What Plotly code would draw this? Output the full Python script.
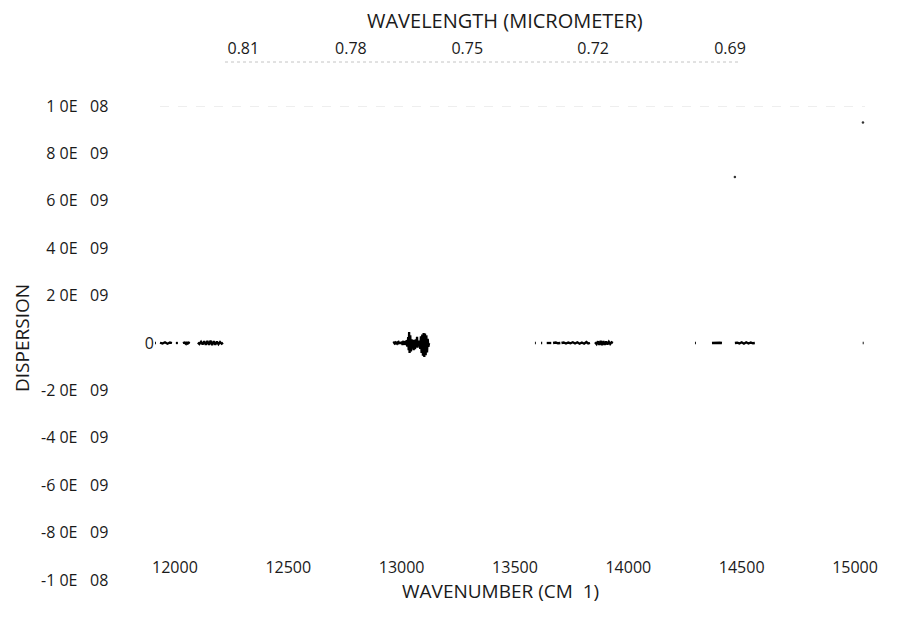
import plotly.graph_objects as go

# ---------------- data ----------------
# wavenumber (cm-1) and dispersion values of the measured trace; None = gap
wn_cluster1 = [11907, 11916, None, 11934, 11945, 11956, 11967, 11978, 11987, None,
               12004, 12013, None, 12035, 12042, 12048, 12051, 12054, 12060, 12066, None,
               12101, 12108, 12115, 12122, 12129, 12136, 12143, 12150, 12157, 12164,
               12171, 12178, 12185, 12192, 12199, 12206, 12212]
disp_cluster1 = [0, 0, None, 0.1e-10, -0.2e-10, 0.3e-10, -0.3e-10, 0.2e-10, 0, None,
                 0, 0, None, 0, 0.2e-10, -0.3e-10, 0.5e-10, -0.5e-10, 0.2e-10, 0, None,
                 0.2e-10, -0.4e-10, 0.5e-10, -0.6e-10, 0.7e-10, -0.8e-10, 0.9e-10, -0.8e-10, 1.0e-10, -0.9e-10,
                 0.8e-10, -0.7e-10, 0.6e-10, -0.5e-10, 0.4e-10, -0.3e-10, 0.1e-10]

wn_burst = [12962, 12966, 12969, 12973, 12976, 12980, 12983, 12987, 12990, 12994,
            12997, 13001, 13004, 13008, 13011, 13015, 13018, 13022, 13025, 13029,
            13031, 13033, 13035, 13038, 13041, 13044, 13047, 13050, 13053, 13056,
            13059, 13062, 13065, 13068, 13070, 13073, 13076, 13079, 13082, 13085,
            13088, 13091, 13094, 13097, 13100, 13103, 13106, 13109, 13112, 13115,
            13118, 13121]
disp_burst = [0, 0.2e-10, -0.2e-10, 0.2e-10, -0.2e-10, 0.2e-10, -0.2e-10, 0.3e-10, -0.3e-10, 0.3e-10,
              -0.3e-10, 0.6e-10, -0.8e-10, 0.9e-10, -0.7e-10, 0.8e-10, -0.9e-10, 1.2e-10, -1.5e-10, 2.5e-10,
              -3.0e-10, 4.6e-10, -4.2e-10, 3.2e-10, -3.6e-10, 1.6e-10, -2.4e-10, 1.3e-10, -3.0e-10, 1.2e-10,
              -2.6e-10, 1.5e-10, -1.8e-10, 2.6e-10, -2.0e-10, 0.9e-10, -0.8e-10, 1.0e-10, -2.5e-10, 2.8e-10,
              -4.2e-10, 3.6e-10, -5.4e-10, 4.2e-10, -5.9e-10, 4.0e-10, -5.2e-10, 3.2e-10, -4.0e-10, 1.8e-10,
              -1.6e-10, 0]

wn_cluster3 = [13588, 13592, None, 13615, 13620, None, 13640, 13650, 13660, None,
               13668, 13680, 13690, 13700, None, 13705, 13715, 13725, 13735, 13745, 13755,
               13765, 13775, 13785, 13795, 13805, 13815, 13823, 13831, None,
               13853, 13860, 13866, 13872, 13878, 13884, 13890, 13896, 13902, 13908,
               13914, 13920, 13926, 13932]
disp_cluster3 = [0, 0, None, 0, 0, None, 0, 0.1e-10, 0, None,
                 0, 0.2e-10, -0.1e-10, 0, None, 0, 0.2e-10, -0.2e-10, 0.2e-10, -0.1e-10, 0.3e-10,
                 -0.2e-10, 0.3e-10, -0.3e-10, 0.2e-10, -0.3e-10, 0.4e-10, -0.2e-10, 0, None,
                 0.3e-10, -0.5e-10, 0.7e-10, -0.8e-10, 0.9e-10, -0.9e-10, 0.8e-10, -0.8e-10, 0.7e-10, -0.6e-10,
                 0.5e-10, -0.4e-10, 0.3e-10, 0]

wn_cluster4 = [14294, 14298, None, 14369, 14380, 14392, 14403, 14413, None,
               14470, 14480, 14490, 14500, 14510, 14520, 14530, 14540, 14550, 14558, None,
               15034, 15038]
disp_cluster4 = [0, 0, None, 0, 0.1e-10, -0.1e-10, 0.1e-10, 0, None,
                 0, 0.1e-10, -0.2e-10, 0.3e-10, -0.3e-10, 0.3e-10, -0.2e-10, 0.2e-10, -0.1e-10, 0, None,
                 0, 0]

# isolated specks above the zero line
wn_specks = [14470, 15035]
disp_specks = [7.0e-9, 9.3e-9]

# axes
x_range = [11912, 15044]
y_range = [-1e-8, 1e-8]
x_ticks = [12000, 12500, 13000, 13500, 14000, 14500, 15000]
y_ticks = [1e-8, 8e-9, 6e-9, 4e-9, 2e-9, 0, -2e-9, -4e-9, -6e-9, -8e-9, -1e-8]
SP3 = "\u00a0\u00a0\u00a0"
y_ticktext = ["1 0E" + SP3 + "08", "8 0E" + SP3 + "09", "6 0E" + SP3 + "09", "4 0E" + SP3 + "09",
              "2 0E" + SP3 + "09", "0",
              "-2 0E" + SP3 + "09", "-4 0E" + SP3 + "09", "-6 0E" + SP3 + "09", "-8 0E" + SP3 + "09",
              "-1 0E" + SP3 + "08"]
wavelength_ticks = [0.81, 0.78, 0.75, 0.72, 0.69]
wavelength_text = ["0.81", "0.78", "0.75", "0.72", "0.69"]

# ---------------- figure ----------------
FONT = "Open Sans, Noto Sans, sans-serif"
INK = "#1a1a1a"
PAD = "\u00a0" * 11

wn_all = wn_cluster1 + [None] + wn_burst + [None] + wn_cluster3 + [None] + wn_cluster4
disp_all = disp_cluster1 + [None] + disp_burst + [None] + disp_cluster3 + [None] + disp_cluster4

fig = go.Figure()
fig.add_trace(go.Scatter(x=wn_all, y=disp_all, mode="lines",
                         line=dict(color="black", width=2.3),
                         connectgaps=False, showlegend=False, hoverinfo="skip"))
fig.add_trace(go.Scatter(x=wn_specks, y=disp_specks, mode="markers",
                         marker=dict(color="#333", size=2.5),
                         showlegend=False, hoverinfo="skip"))
# carrier trace so the top wavelength axis is drawn
top_pos = [1e4 / w for w in wavelength_ticks]
fig.add_trace(go.Scatter(x=top_pos, y=[None] * len(top_pos), xaxis="x2", mode="markers",
                         showlegend=False, hoverinfo="skip"))

xdom = [155 / 905, 865 / 905]
ydom = [58 / 638, 532 / 638]

fig.update_layout(
    width=905, height=638,
    margin=dict(l=0, r=0, t=0, b=0),
    paper_bgcolor="white", plot_bgcolor="white",
    template="none",
    font=dict(family=FONT, color=INK, size=16),
    xaxis=dict(domain=xdom, range=x_range, anchor="free", position=(638 - 556) / 638,
               tickvals=x_ticks, ticktext=[str(v) for v in x_ticks],
               ticks="", showline=False, showgrid=False, zeroline=False,
               tickfont=dict(size=16), automargin=False),
    xaxis2=dict(overlaying="x", side="top", range=x_range, anchor="free",
                position=(638 - 62) / 638,
                tickvals=top_pos, ticktext=wavelength_text, ticklabelshift=-10,
                ticklabelstandoff=5,
                ticks="", showline=False, showgrid=False, zeroline=False,
                tickfont=dict(size=16), automargin=False),
    yaxis=dict(domain=ydom, range=y_range,
               tickvals=y_ticks,
               ticktext=[t if t == "0" else t + PAD for t in y_ticktext],
               ticks="", showline=False, showgrid=False, zeroline=False,
               tickfont=dict(size=16), automargin=False),
    shapes=[
        dict(type="line", xref="paper", yref="y", x0=160 / 905, x1=865 / 905,
             y0=y_range[1], y1=y_range[1], line=dict(color="#dedede", width=1, dash="dash")),
        dict(type="line", xref="paper", yref="paper", x0=225 / 905, x1=740 / 905,
             y0=(638 - 62) / 638, y1=(638 - 62) / 638,
             line=dict(color="#c4c4c4", width=1, dash="dot")),
    ],
    annotations=[
        dict(text="WAVELENGTH (MICROMETER)", xref="paper", yref="paper",
             x=505 / 905, y=(638 - 20) / 638, xanchor="center", yanchor="middle",
             showarrow=False, font=dict(size=20)),
        dict(text="WAVENUMBER (CM \u00a01)", xref="paper", yref="paper",
             x=500 / 905, y=(638 - 591) / 638, xanchor="center", yanchor="middle",
             showarrow=False, font=dict(size=19)),
        dict(text="DISPERSION", xref="paper", yref="paper", textangle=-90,
             x=22 / 905, y=(638 - 338) / 638, xanchor="center", yanchor="middle",
             showarrow=False, font=dict(size=19)),
    ],
)

fig.write_html("out.html")
